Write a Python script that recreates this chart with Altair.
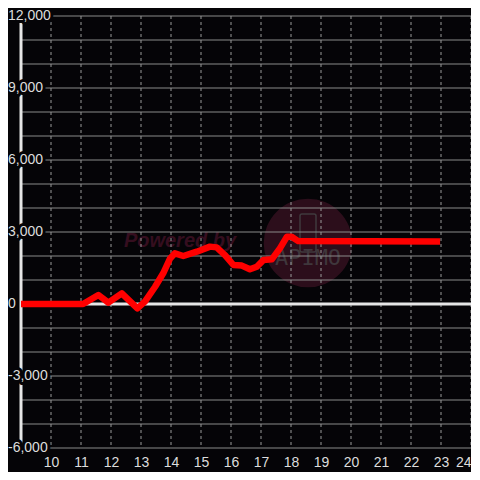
import altair as alt
import pandas as pd

# ---- data ----
line_x = [9.0, 11.07, 11.58, 11.91, 12.36, 12.88, 13.13, 13.47, 13.74, 13.97, 14.13,
          14.41, 14.86, 15.3, 15.52, 15.8, 16.08, 16.36, 16.63, 16.86, 17.08, 17.36,
          17.63, 17.86, 18.02, 18.24, 22.97]
line_y = [0, 0, 375, 55, 445, -180, 100, 720, 1280, 1900, 2110,
          2000, 2180, 2390, 2360, 2040, 1625, 1600, 1445, 1555, 1830, 1860,
          2320, 2800, 2800, 2620, 2600]

x_ticks = list(range(10, 25))
y_grid = list(range(-6000, 12001, 1000))
y_label_values = [12000, 9000, 6000, 3000, 0, -3000, -6000]
y_label_text = ["12,000", "9,000", "6,000", "3,000", "0", "-3,000", "-6,000"]
zero_value = [0]

BG = "#050407"
W, H = 450, 432
X_DOM = [9, 24]
Y_DOM = [-6000, 12000]

xs = alt.Scale(domain=X_DOM, nice=False, zero=False)
ys = alt.Scale(domain=Y_DOM, nice=False, zero=False)
x_axis = alt.Axis(values=x_ticks, title=None, grid=False, ticks=False, domain=False,
                  labelColor="#dddddd", labelFontSize=14, labelFont="Liberation Sans",
                  labelPadding=7, format="d", labelFlush=True)

one = pd.DataFrame({"k": [0]})
df_line = pd.DataFrame({"x": line_x, "y": line_y})
df_gy = pd.DataFrame({"v": y_grid})
df_gx = pd.DataFrame({"v": x_ticks})
df_zero = pd.DataFrame({"v": zero_value})
df_lab = pd.DataFrame({"v": y_label_values, "t": y_label_text})

circle = alt.Chart(one).mark_circle(color="#2c0e1b", opacity=1, size=7850).encode(
    x=alt.value(287), y=alt.value(227))

powered = alt.Chart(one).mark_text(
    text="Powered by", font="Liberation Sans", fontSize=20, fontWeight="bold",
    fontStyle="italic", color="#350e1f", align="center", baseline="middle"
).encode(x=alt.value(159), y=alt.value(225))

logo_box = alt.Chart(one).mark_rect(
    fillOpacity=0, stroke="#3f3a3e", strokeWidth=1.5, cornerRadius=2
).encode(x=alt.value(279), x2=alt.value(295), y=alt.value(198), y2=alt.value(236))

apimo = alt.Chart(one).mark_text(
    text="APIMO", font="DejaVu Sans Mono", fontSize=22, color="#3f373c",
    align="center", baseline="middle"
).encode(x=alt.value(287), y=alt.value(242))

grid_h = alt.Chart(df_gy).mark_rule(color="#8a8a8a", strokeWidth=1).encode(
    y=alt.Y("v:Q", scale=ys, axis=None))

grid_v = alt.Chart(df_gx).mark_rule(color="#9a9a9a", strokeWidth=1, strokeDash=[3, 3]).encode(
    x=alt.X("v:Q", scale=xs, axis=x_axis))

zero_line = alt.Chart(df_zero).mark_rule(color="#e6e6e6", strokeWidth=3).encode(
    y=alt.Y("v:Q", scale=ys, axis=None))

y_axis_line = alt.Chart(one).mark_rule(color="#e6e6e6", strokeWidth=3).encode(
    x=alt.value(0), y=alt.value(0), y2=alt.value(H))

red = alt.Chart(df_line).mark_line(color="#ff0000", strokeWidth=6.5, strokeCap="butt",
                                   strokeJoin="round").encode(
    x=alt.X("x:Q", scale=xs, axis=x_axis),
    y=alt.Y("y:Q", scale=ys, axis=None),
    order="x:Q")

halo = alt.Chart(df_lab).mark_text(
    font="Liberation Sans", fontSize=14, align="left", baseline="middle",
    fill=BG, stroke=BG, strokeWidth=6, strokeJoin="round"
).encode(x=alt.value(-13), y=alt.Y("v:Q", scale=ys, axis=None), text="t:N")

labels = alt.Chart(df_lab).mark_text(
    font="Liberation Sans", fontSize=14, align="left", baseline="middle", color="#dddddd"
).encode(x=alt.value(-13), y=alt.Y("v:Q", scale=ys, axis=None), text="t:N")

chart = alt.layer(
    circle, powered, logo_box, apimo, grid_h, grid_v, zero_line, y_axis_line, red, halo, labels
).properties(
    width=W, height=H, background=BG,
    autosize=alt.AutoSizeParams(type="none"),
    padding={"left": 13, "top": 8, "right": 0, "bottom": 24},
).configure_view(stroke=None)

chart.save("out.html", embed_options={"renderer": "svg", "actions": False})
